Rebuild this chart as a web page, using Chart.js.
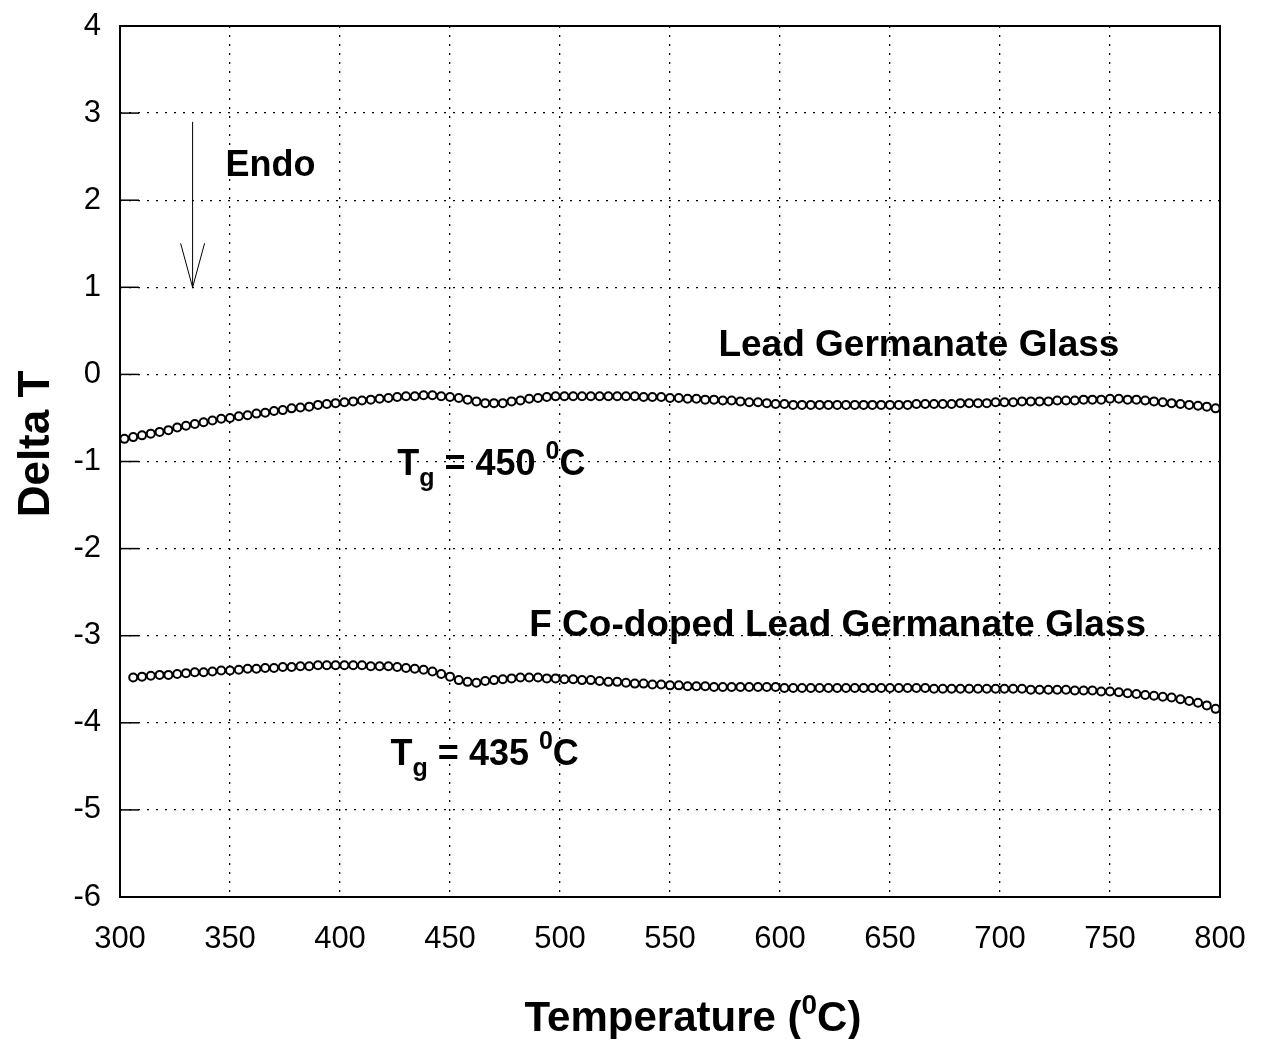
<!DOCTYPE html>
<html>
<head>
<meta charset="utf-8">
<title>DSC - Lead Germanate Glass</title>
<script src="https://cdn.jsdelivr.net/npm/chart.js@4.4.0/dist/chart.umd.min.js"></script>
<style>
  html, body { margin: 0; padding: 0; background: #fff; }
  #wrap { width: 1266px; height: 1039px; position: relative; }
</style>
</head>
<body>
<div id="wrap"><canvas id="dsc"></canvas></div>
<script>
// temperatures of the plotted points (deg C)
var temps = [
  302, 306, 310, 314, 318, 322, 326, 330, 334, 338,
  342, 346, 350, 354, 358, 362, 366, 370, 374, 378,
  382, 386, 390, 394, 398, 402, 406, 410, 414, 418,
  422, 426, 430, 434, 438, 442, 446, 450, 454, 458,
  462, 466, 470, 474, 478, 482, 486, 490, 494, 498,
  502, 506, 510, 514, 518, 522, 526, 530, 534, 538,
  542, 546, 550, 554, 558, 562, 566, 570, 574, 578,
  582, 586, 590, 594, 598, 602, 606, 610, 614, 618,
  622, 626, 630, 634, 638, 642, 646, 650, 654, 658,
  662, 666, 670, 674, 678, 682, 686, 690, 694, 698,
  702, 706, 710, 714, 718, 722, 726, 730, 734, 738,
  742, 746, 750, 754, 758, 762, 766, 770, 774, 778,
  782, 786, 790, 794, 798
];

// Delta T, lead germanate glass (Tg = 450 C)
var leadGermanate = [
  -0.74, -0.72, -0.70, -0.68, -0.66, -0.64, -0.61, -0.59, -0.57, -0.55,
  -0.53, -0.51, -0.50, -0.48, -0.47, -0.45, -0.44, -0.42, -0.41, -0.39,
  -0.38, -0.37, -0.35, -0.34, -0.33, -0.32, -0.31, -0.30, -0.29, -0.28,
  -0.27, -0.26, -0.25, -0.25, -0.24, -0.24, -0.25, -0.26, -0.27, -0.29,
  -0.31, -0.33, -0.33, -0.33, -0.31, -0.30, -0.28, -0.27, -0.26, -0.25,
  -0.25, -0.25, -0.25, -0.25, -0.25, -0.25, -0.25, -0.25, -0.25, -0.26,
  -0.26, -0.26, -0.27, -0.27, -0.28, -0.28, -0.29, -0.29, -0.30, -0.30,
  -0.31, -0.32, -0.32, -0.33, -0.34, -0.34, -0.35, -0.35, -0.35, -0.35,
  -0.35, -0.35, -0.35, -0.35, -0.35, -0.35, -0.35, -0.35, -0.35, -0.35,
  -0.34, -0.34, -0.34, -0.34, -0.34, -0.33, -0.33, -0.33, -0.33, -0.32,
  -0.32, -0.32, -0.31, -0.31, -0.31, -0.31, -0.30, -0.30, -0.30, -0.29,
  -0.29, -0.29, -0.28, -0.28, -0.29, -0.29, -0.30, -0.31, -0.32, -0.33,
  -0.34, -0.35, -0.36, -0.37, -0.39
];

// Delta T, F co-doped lead germanate glass (Tg = 435 C)
var fCodoped = [
   null, -3.48, -3.47, -3.46, -3.45, -3.45, -3.44, -3.43, -3.42, -3.42,
  -3.41, -3.40, -3.40, -3.39, -3.38, -3.38, -3.37, -3.37, -3.36, -3.36,
  -3.35, -3.35, -3.34, -3.34, -3.34, -3.34, -3.34, -3.34, -3.35, -3.35,
  -3.35, -3.36, -3.37, -3.38, -3.39, -3.41, -3.44, -3.47, -3.51, -3.53,
  -3.54, -3.52, -3.51, -3.50, -3.49, -3.48, -3.48, -3.48, -3.49, -3.49,
  -3.50, -3.50, -3.51, -3.51, -3.52, -3.53, -3.53, -3.54, -3.55, -3.55,
  -3.56, -3.56, -3.57, -3.57, -3.58, -3.58, -3.58, -3.59, -3.59, -3.59,
  -3.59, -3.59, -3.59, -3.59, -3.59, -3.60, -3.60, -3.60, -3.60, -3.60,
  -3.60, -3.60, -3.60, -3.60, -3.60, -3.60, -3.60, -3.60, -3.60, -3.60,
  -3.60, -3.60, -3.61, -3.61, -3.61, -3.61, -3.61, -3.61, -3.61, -3.61,
  -3.61, -3.61, -3.61, -3.62, -3.62, -3.62, -3.62, -3.62, -3.63, -3.63,
  -3.63, -3.64, -3.64, -3.65, -3.66, -3.67, -3.68, -3.69, -3.70, -3.71,
  -3.73, -3.75, -3.77, -3.80, -3.84
];

var FONT = '"Liberation Sans", Arial, Helvetica, sans-serif';

function toPoints(ys) {
  var pts = [];
  for (var i = 0; i < temps.length; i++) {
    if (ys[i] !== null) pts.push({ x: temps[i], y: ys[i] });
  }
  return pts;
}

// draw a run of bold text pieces: [text, size, baseline shift]
function drawRich(ctx, parts, x, y) {
  parts.forEach(function (p) {
    ctx.font = 'bold ' + p[1] + 'px ' + FONT;
    ctx.fillText(p[0], x, y + p[2]);
    x += ctx.measureText(p[0]).width;
  });
}

var decorations = {
  id: 'decorations',
  afterDraw: function (chart) {
    var ctx = chart.ctx;
    var xs = chart.scales.x, ys = chart.scales.y;
    var area = chart.chartArea;
    ctx.save();
    ctx.fillStyle = '#000';
    ctx.strokeStyle = '#000';

    // frame
    ctx.lineWidth = 2;
    ctx.setLineDash([]);
    ctx.strokeRect(area.left, area.top, area.right - area.left, area.bottom - area.top);

    // inward tick marks on the y axis
    ctx.lineWidth = 1.5;
    ys.ticks.forEach(function (t) {
      var py = ys.getPixelForValue(t.value);
      ctx.beginPath();
      ctx.moveTo(area.left, py);
      ctx.lineTo(area.left + 19, py);
      ctx.stroke();
    });

    // Endo arrow
    var ax = xs.getPixelForValue(333);
    var ay0 = ys.getPixelForValue(2.9);
    var ay1 = ys.getPixelForValue(1.0);
    ctx.lineWidth = 1;
    ctx.beginPath();
    ctx.moveTo(ax, ay0);
    ctx.lineTo(ax, ay1);
    ctx.moveTo(ax - 12, ay1 - 44);
    ctx.lineTo(ax, ay1);
    ctx.lineTo(ax + 12, ay1 - 44);
    ctx.stroke();

    ctx.textAlign = 'left';
    ctx.textBaseline = 'alphabetic';
    drawRich(ctx, [['Endo', 36, 0]], xs.getPixelForValue(348), ys.getPixelForValue(2.28));
    drawRich(ctx, [['Lead Germanate Glass', 37, 0]], xs.getPixelForValue(572), ys.getPixelForValue(0.21));
    drawRich(ctx, [['F Co-doped Lead Germanate Glass', 37, 0]], xs.getPixelForValue(486), ys.getPixelForValue(-3.0));
    drawRich(ctx, [['T', 36, 0], ['g', 25, 11], [' = 450 ', 36, 0], ['0', 25, -16], ['C', 36, 0]],
      xs.getPixelForValue(426), ys.getPixelForValue(-1.15));
    drawRich(ctx, [['T', 36, 0], ['g', 25, 11], [' = 435 ', 36, 0], ['0', 25, -16], ['C', 36, 0]],
      xs.getPixelForValue(423), ys.getPixelForValue(-4.48));

    // axis titles
    var parts = [['Temperature (', 42, 0], ['0', 28, -17], ['C)', 42, 0]];
    var w = 0;
    parts.forEach(function (p) {
      ctx.font = 'bold ' + p[1] + 'px ' + FONT;
      w += ctx.measureText(p[0]).width;
    });
    drawRich(ctx, parts, 693 - w / 2, 1031);

    ctx.translate(49, 444);
    ctx.rotate(-Math.PI / 2);
    ctx.textAlign = 'center';
    ctx.font = 'bold 44px ' + FONT;
    ctx.fillText('Delta T', 0, 0);
    ctx.restore();
  }
};

window.onload = function () {
  var ctx = document.getElementById('dsc').getContext('2d');
  var markerStyle = {
    showLine: false,
    pointStyle: 'circle',
    pointRadius: 4,
    pointBorderWidth: 2,
    pointBorderColor: '#000',
    pointBackgroundColor: '#fff'
  };
  window.dscChart = new Chart(ctx, {
    type: 'scatter',
    data: {
      datasets: [
        Object.assign({ label: 'Lead Germanate Glass', data: toPoints(leadGermanate) }, markerStyle),
        Object.assign({ label: 'F Co-doped Lead Germanate Glass', data: toPoints(fCodoped) }, markerStyle)
      ]
    },
    options: {
      responsive: true,
      maintainAspectRatio: false,
      animation: false,
      layout: { padding: { left: 0, top: 26, right: 46, bottom: 0 } },
      plugins: {
        legend: { display: false },
        tooltip: { enabled: false }
      },
      scales: {
        x: {
          type: 'linear',
          min: 300,
          max: 800,
          ticks: {
            stepSize: 50,
            padding: 24,
            color: '#000',
            font: { family: FONT, size: 31 }
          },
          grid: { color: '#000', lineWidth: 1.3, drawTicks: false },
          border: { display: false, dash: [2, 7] },
          afterFit: function (scale) {
            scale.height = 142;
            scale.paddingLeft = 0;
            scale.paddingRight = 0;
          }
        },
        y: {
          min: -6,
          max: 4,
          ticks: {
            stepSize: 1,
            padding: 19,
            color: '#000',
            font: { family: FONT, size: 31 }
          },
          grid: { color: '#000', lineWidth: 1.3, drawTicks: false },
          border: { display: false, dash: [2, 7] },
          afterFit: function (scale) {
            scale.width = 120;
            scale.paddingTop = 0;
            scale.paddingBottom = 0;
          }
        }
      }
    },
    plugins: [decorations]
  });
};
</script>
</body>
</html>
